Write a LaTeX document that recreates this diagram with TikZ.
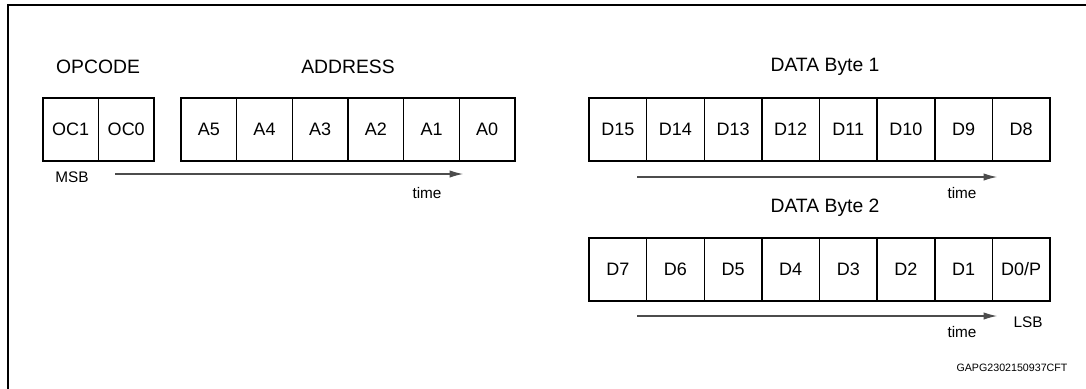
\documentclass[tikz,border=0pt]{standalone}
\usepackage{fontspec}
\setmainfont{Liberation Sans}
\usetikzlibrary{arrows.meta}

\tikzset{
  bitcell/.style={draw, line width=1.1pt, inner sep=0pt, outer sep=0pt,
    minimum height=47.25pt, font=\fontsize{13.5}{16}\selectfont},
  addrcell/.style={bitcell, minimum width=41.75pt},
  datacell/.style={bitcell, minimum width=43.2pt},
  grouplabel/.style={font=\fontsize{14.5}{17}\selectfont},
  smalllabel/.style={font=\fontsize{11.5}{14}\selectfont},
  timearrow/.style={-{Latex[length=10pt,width=5.5pt]}, line width=0.8pt, draw=black!70},
}

\begin{document}
\begin{tikzpicture}[x=0.75pt,y=-0.75pt]
        \useasboundingbox (0,0) rectangle (1086,389);
        % frame, cut off at right and bottom
        \draw[line width=1.6pt] (8,389) -- (8,5) -- (1086,5);

        % opcode and address bits
        \foreach \b [count=\i] in {OC1,OC0}
        \node[addrcell] (oc\i) at ({43+55.5*(\i-0.5)},129.5) {\b};
        \foreach \b [count=\i] in {A5,A4,A3,A2,A1,A0}
        \node[addrcell] (a\i) at ({181+55.67*(\i-0.5)},129.5) {\b};

        % data bytes
        \foreach \b [count=\i] in {D15,D14,D13,D12,D11,D10,D9,D8}
        \node[datacell] (hi\i) at ({589+57.625*(\i-0.5)},129.5) {\b};
        \foreach \b [count=\i] in {D7,D6,D5,D4,D3,D2,D1,D0/P}
        \node[datacell] (lo\i) at ({589+57.625*(\i-0.5)},269.5) {\b};

        \node[grouplabel] (opcode) at (98,67) {OPCODE};
        \node[grouplabel] (address) at (348,67) {ADDRESS};
        \node[grouplabel] (byte1) at (825,67) {DATA Byte 1};
        \node[grouplabel] (byte2) at (825,208) {DATA Byte 2};

        % time arrows
        \coordinate (t1a) at (115,174);
        \coordinate (t1b) at (463,174);
        \coordinate (t2a) at (637,177);
        \coordinate (t2b) at (997,177);
        \coordinate (t3a) at (637,316);
        \coordinate (t3b) at (997,316);
        \draw[timearrow] (t1a) -- (t1b);
        \draw[timearrow] (t2a) -- (t2b);
        \draw[timearrow] (t3a) -- (t3b);

        \node[smalllabel] (time1) at (427,193) {time};
        \node[smalllabel] (time2) at (962,193) {time};
        \node[smalllabel] (time3) at (962,332) {time};
        \node[smalllabel] (msb) at (72,177) {MSB};
        \node[smalllabel] (lsb) at (1028,322) {LSB};
        \node[font=\fontsize{8}{10}\selectfont] (ref) at (1012,368) {GAPG2302150937CFT};
\end{tikzpicture}
\end{document}
